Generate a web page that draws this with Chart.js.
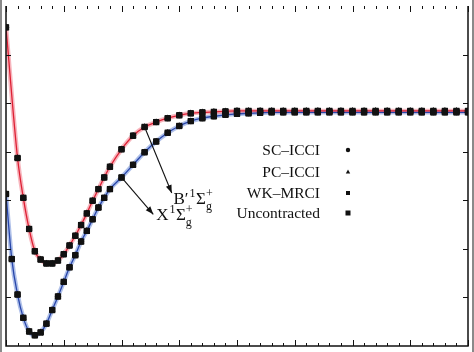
<!DOCTYPE html>
<html>
<head>
<meta charset="utf-8">
<script src="https://cdn.jsdelivr.net/npm/chart.js@4/dist/chart.umd.min.js"></script>
<style>
  html, body { margin: 0; padding: 0; background: #fff; }
  #wrap { width: 474px; height: 352px; position: relative; }
</style>
</head>
<body>
<div id="wrap"><canvas id="pec" width="474" height="352"></canvas></div>
<script>
// curva B'1Sg+ (roja)
const xB = [0, 0.2, 0.3, 0.4, 0.5, 0.6, 0.7, 0.8, 0.9, 1.0, 1.1, 1.2, 1.3, 1.4, 1.5, 1.6, 1.7, 1.8,
            2.0, 2.2, 2.4, 2.6, 2.8, 3.0, 3.2, 3.4, 3.6, 3.8, 4.0, 4.2, 4.4, 4.6, 4.8, 5.0, 5.2, 5.4,
            5.6, 5.8, 6.0, 6.2, 6.4, 6.6, 6.8, 7.0, 7.2, 7.4, 7.6, 7.8, 8.0];
const eB = [6.56, 3.87, 3.05, 2.41, 1.95, 1.78, 1.70, 1.70, 1.76, 1.89, 2.07, 2.27, 2.49, 2.73, 2.99, 3.23, 3.47, 3.69,
            4.05, 4.33, 4.51, 4.61, 4.69, 4.75, 4.79, 4.81, 4.82, 4.83, 4.84, 4.84, 4.84, 4.84, 4.84, 4.84, 4.84, 4.84,
            4.84, 4.84, 4.84, 4.84, 4.84, 4.84, 4.84, 4.84, 4.84, 4.84, 4.84, 4.84, 4.84];
// curva X1Sg+ (azul)
const xX = [0, 0.1, 0.2, 0.3, 0.4, 0.5, 0.6, 0.7, 0.8, 0.9, 1.0, 1.1, 1.2, 1.3, 1.4, 1.5, 1.6, 1.7, 1.8,
            2.0, 2.2, 2.4, 2.6, 2.8, 3.0, 3.2, 3.4, 3.6, 3.8, 4.0, 4.2, 4.4, 4.6, 4.8, 5.0, 5.2, 5.4,
            5.6, 5.8, 6.0, 6.2, 6.4, 6.6, 6.8, 7.0, 7.2, 7.4, 7.6, 7.8, 8.0];
const eX = [3.13, 1.79, 1.06, 0.58, 0.30, 0.22, 0.28, 0.46, 0.74, 1.02, 1.32, 1.62, 1.87, 2.15, 2.37, 2.61, 2.85, 3.05, 3.23,
            3.47, 3.73, 3.99, 4.21, 4.39, 4.53, 4.63, 4.69, 4.73, 4.76, 4.78, 4.79, 4.80, 4.81, 4.81, 4.81, 4.81, 4.81,
            4.81, 4.81, 4.81, 4.81, 4.81, 4.81, 4.81, 4.81, 4.81, 4.81, 4.81, 4.81, 4.81];

const methods = ['SC\u2013ICCI', 'PC\u2013ICCI', 'WK\u2013MRCI', 'Uncontracted'];
const methodShapes = ['circle', 'triangle', 'crossRot', 'rect'];

const xMin = 0, xMax = 8, yMin = 0, yMax = 7;

const ptsB = xB.map((x, i) => ({ x: x, y: eB[i] }));
const ptsX = xX.map((x, i) => ({ x: x, y: eX[i] }));

const FONT = '"Liberation Serif", "DejaVu Serif", serif';

// marcos, ticks, flechas, etiquetas y leyenda
const decor = {
  id: 'decor',
  beforeDraw(chart) {
    const c = chart.ctx;
    c.save();
    c.fillStyle = '#fff';
    c.fillRect(0, 0, chart.width, chart.height);
    c.restore();
  },
  afterDraw(chart) {
    const c = chart.ctx;
    const xs = chart.scales.x, ys = chart.scales.y;
    const a = chart.chartArea;
    c.save();
    // bordes grises del escaneo
    c.fillStyle = '#8a8a8a';
    c.fillRect(0, 0, 2, chart.height);
    c.fillRect(472, 0, 2, chart.height);
    // marco
    c.strokeStyle = '#111';
    c.lineWidth = 1.5;
    c.beginPath();
    c.moveTo(a.left, a.top); c.lineTo(a.left, a.bottom); c.lineTo(a.right, a.bottom); c.lineTo(a.right, a.top);
    c.stroke();
    // ticks x
    c.lineWidth = 1;
    for (let k = 0; k <= 40; k++) {
      const v = xMin + k * 0.2;
      const px = Math.round(xs.getPixelForValue(v)) + 0.5;
      const len = (k % 5 === 0) ? 6 : 3;
      c.beginPath();
      c.moveTo(px, a.bottom); c.lineTo(px, a.bottom - len);
      c.moveTo(px, a.top); c.lineTo(px, a.top + len);
      c.stroke();
    }
    // ticks y
    for (let v = yMin + 1; v < yMax; v++) {
      const py = Math.round(ys.getPixelForValue(v)) + 0.5;
      c.beginPath();
      c.moveTo(a.left, py); c.lineTo(a.left + 5, py);
      c.moveTo(a.right, py); c.lineTo(a.right - 5, py);
      c.stroke();
    }
    // flechas
    function arrow(x0, y0, x1, y1) {
      const p0x = xs.getPixelForValue(x0), p0y = ys.getPixelForValue(y0);
      const p1x = xs.getPixelForValue(x1), p1y = ys.getPixelForValue(y1);
      c.strokeStyle = '#111'; c.fillStyle = '#111'; c.lineWidth = 1.1;
      c.beginPath(); c.moveTo(p0x, p0y); c.lineTo(p1x, p1y); c.stroke();
      const ang = Math.atan2(p1y - p0y, p1x - p0x);
      const L = 8, W = 3;
      c.beginPath();
      c.moveTo(p1x, p1y);
      c.lineTo(p1x - L * Math.cos(ang) + W * Math.sin(ang), p1y - L * Math.sin(ang) - W * Math.cos(ang));
      c.lineTo(p1x - L * Math.cos(ang) - W * Math.sin(ang), p1y - L * Math.sin(ang) + W * Math.cos(ang));
      c.closePath(); c.fill();
    }
    arrow(2.4, 4.51, 2.87, 3.15);
    arrow(2.0, 3.47, 2.55, 2.71);
    // etiquetas de estado
    function stateLabel(letter, xv, yv) {
      let px = xs.getPixelForValue(xv), py = ys.getPixelForValue(yv);
      c.fillStyle = '#111';
      c.textAlign = 'left'; c.textBaseline = 'alphabetic';
      c.font = '17px ' + FONT;
      c.fillText(letter, px, py);
      px += c.measureText(letter).width + 1;
      c.font = '12px ' + FONT;
      c.fillText('1', px, py - 7);
      px += c.measureText('1').width + 0.5;
      c.font = '17px ' + FONT;
      c.fillText('\u03A3', px, py);
      px += c.measureText('\u03A3').width;
      c.font = '12px ' + FONT;
      c.fillText('+', px, py - 7);
      c.fillText('g', px, py + 6);
    }
    stateLabel('B\u2032', 2.9, 2.93);
    stateLabel('X', 2.6, 2.6);
    // leyenda
    const rowsY = [150, 172, 193, 213];
    c.font = '15.5px ' + FONT;
    c.textAlign = 'right'; c.textBaseline = 'middle';
    methods.forEach((m, i) => {
      c.fillStyle = '#111';
      c.fillText(m, 320, rowsY[i] + 1);
      const mx = 348, my = rowsY[i];
      c.beginPath();
      if (methodShapes[i] === 'circle') { c.arc(mx, my, 2.2, 0, Math.PI * 2); c.fill(); }
      else if (methodShapes[i] === 'triangle') { c.moveTo(mx, my - 2.5); c.lineTo(mx + 2.2, my + 1.5); c.lineTo(mx - 2.2, my + 1.5); c.closePath(); c.fill(); }
      else if (methodShapes[i] === 'crossRot') { c.fillRect(mx - 2, my - 2, 4, 4); }
      else { c.fillRect(mx - 2.5, my - 2.5, 5, 5); }
    });
    c.restore();
  }
};

const markerSets = methods.map((m, i) => ({
  type: 'scatter',
  label: m,
  data: ptsB.concat(ptsX),
  showLine: false,
  pointStyle: methodShapes[i],
  pointRadius: [3.2, 3.8, 3.6, 4.4][i],
  pointBorderWidth: methodShapes[i] === 'crossRot' ? 2 : 0,
  pointBackgroundColor: '#111',
  pointBorderColor: '#111',
  order: 0
}));

const ctx = document.getElementById('pec').getContext('2d');
new Chart(ctx, {
  type: 'scatter',
  data: {
    datasets: [
      { type: 'line', data: ptsB, borderColor: 'rgba(240,120,135,0.55)', borderWidth: 4.5, pointRadius: 0, cubicInterpolationMode: 'monotone', order: 3 },
      { type: 'line', data: ptsB, borderColor: 'rgb(222,32,52)', borderWidth: 1.3, pointRadius: 0, cubicInterpolationMode: 'monotone', order: 2 },
      { type: 'line', data: ptsX, borderColor: 'rgba(110,140,215,0.55)', borderWidth: 4.5, pointRadius: 0, cubicInterpolationMode: 'monotone', order: 3 },
      { type: 'line', data: ptsX, borderColor: 'rgb(40,70,170)', borderWidth: 1.3, pointRadius: 0, cubicInterpolationMode: 'monotone', order: 2 }
    ].concat(markerSets)
  },
  options: {
    responsive: false,
    animation: false,
    devicePixelRatio: 1,
    layout: { padding: { left: 3, right: 3, top: 0, bottom: 1 } },
    plugins: { legend: { display: false }, tooltip: { enabled: false } },
    scales: {
      x: { type: 'linear', min: xMin, max: xMax, display: false },
      y: { type: 'linear', min: yMin, max: yMax, display: false }
    }
  },
  plugins: [decor]
});
</script>
</body>
</html>
